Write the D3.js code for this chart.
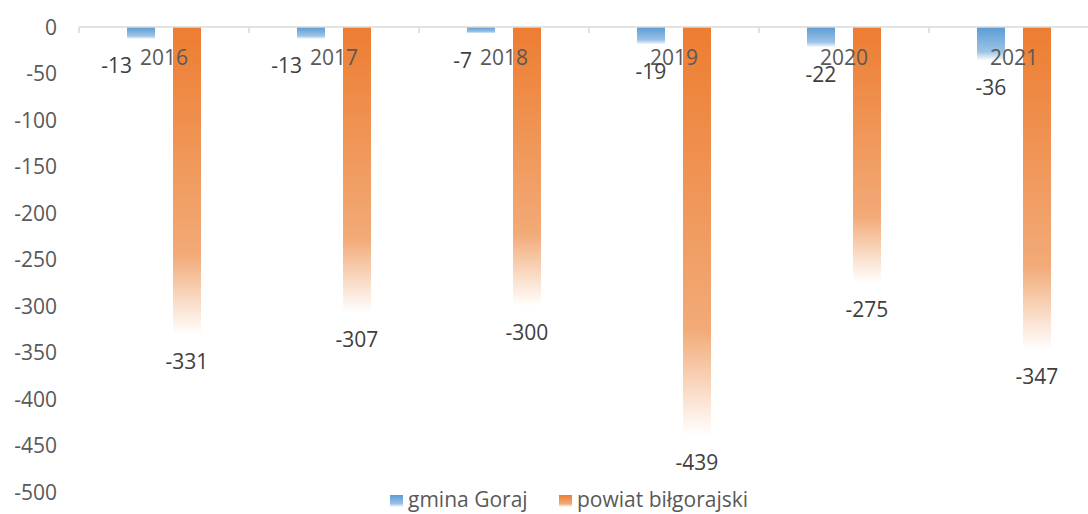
<!DOCTYPE html>
<html><head><meta charset="utf-8">
<script src="https://cdn.jsdelivr.net/npm/d3@7"></script>
<style>
html,body{margin:0;padding:0;background:#fff;}
svg{display:block;font-family:"Open Sans",sans-serif;}
</style></head>
<body><svg id="c" width="1088" height="514"></svg>
<script>
const years = ["2016","2017","2018","2019","2020","2021"];
const seriesNames = ["gmina Goraj","powiat biłgorajski"];
const gminaGoraj = [-13,-13,-7,-19,-22,-36];
const powiatBilgorajski = [-331,-307,-300,-439,-275,-347];
const yTicks = [0,-50,-100,-150,-200,-250,-300,-350,-400,-450,-500];
const colors = ["#5B9BD5","#ED7D31"];
const lightColors = ["#9DC3E6","#F2AA77"];

const svg = d3.select("#c");
const W = 1088, H = 514;
const y = d3.scaleLinear().domain([-500,0]).range([492,27]);
const x = d3.scaleBand().domain(years).range([79,1099]).paddingInner(0).paddingOuter(0);
const x1 = d3.scaleBand().domain(seriesNames).range([0,x.bandwidth()]).paddingInner(0.3913).paddingOuter(1.0435);

const defs = svg.append("defs");
seriesNames.forEach((s,i)=>{
  const g = defs.append("linearGradient").attr("id","grad"+i).attr("x1",0).attr("y1",0).attr("x2",0).attr("y2",1);
  g.append("stop").attr("offset","0%").attr("stop-color",colors[i]);
  g.append("stop").attr("offset","74%").attr("stop-color",lightColors[i]);
  g.append("stop").attr("offset","100%").attr("stop-color","#FFFFFF");
});

// y axis labels
const yAxis = svg.append("g").attr("transform","translate(57,0)")
  .call(d3.axisLeft(y).tickValues(yTicks).tickSize(0).tickPadding(0).tickFormat(d=>String(d)));
yAxis.select(".domain").remove();
yAxis.selectAll("text").attr("font-size",21).attr("fill","#595959").attr("font-family","'Open Sans',sans-serif").attr("dy","0.35em");

const data = years.map((yr,i)=>({year:yr, vals:[gminaGoraj[i], powiatBilgorajski[i]]}));

// bars
const groups = svg.append("g").selectAll("g").data(data).join("g")
  .attr("transform",d=>`translate(${x(d.year)},0)`);
groups.selectAll("rect").data(d=>d.vals.map((v,i)=>({v,i,s:seriesNames[i]}))).join("rect")
  .attr("x",d=>x1(d.s)).attr("width",x1.bandwidth())
  .attr("y",y(0)).attr("height",d=>y(d.v)-y(0))
  .attr("fill",d=>`url(#grad${d.i})`);

// axis line + boundary ticks
svg.append("line").attr("x1",79).attr("x2",W).attr("y1",y(0)).attr("y2",y(0)).attr("stroke","#D9D9D9").attr("stroke-width",1.5);
svg.append("g").selectAll("line").data(years.concat(["end"])).join("line")
  .attr("x1",(d,i)=>79+i*x.step()).attr("x2",(d,i)=>79+i*x.step())
  .attr("y1",y(0)).attr("y2",y(0)+6).attr("stroke","#D9D9D9").attr("stroke-width",1.5);

// category labels
const catBaseline = 65;
const cats = svg.append("g").selectAll("text").data(years).join("text")
  .attr("x",d=>x(d)+x.bandwidth()/2).attr("y",catBaseline)
  .attr("text-anchor","middle").attr("font-size",21).attr("fill","#595959").text(d=>d);
const catBox = {};
cats.each(function(d){ catBox[d]=this.getBBox(); });

// value labels
const lbl = svg.append("g");
data.forEach(d=>{
  d.vals.forEach((v,i)=>{
    const cx = x(d.year)+x1(seriesNames[i])+x1.bandwidth()/2;
    const cy = y(v)+27;
    const t = lbl.append("text").attr("x",cx).attr("y",cy).attr("dy","0.35em")
      .attr("text-anchor","middle").attr("font-size",21).attr("fill","#404040").text(String(v));
    if(i===0 && cy-7 < catBaseline-5){
      const w = t.node().getComputedTextLength();
      const right = catBox[d.year].x - 8;
      t.attr("x", right - w/2);
    }
  });
});

// legend
const leg = svg.append("g");
const legItems = [{name:seriesNames[0],x:390},{name:seriesNames[1],x:559}];
legItems.forEach((it,i)=>{
  leg.append("rect").attr("x",it.x).attr("y",495).attr("width",13).attr("height",12).attr("fill",`url(#grad${i})`);
  leg.append("text").attr("x",it.x+18).attr("y",507).attr("font-size",21).attr("fill","#595959").text(it.name);
});
</script></body></html>
